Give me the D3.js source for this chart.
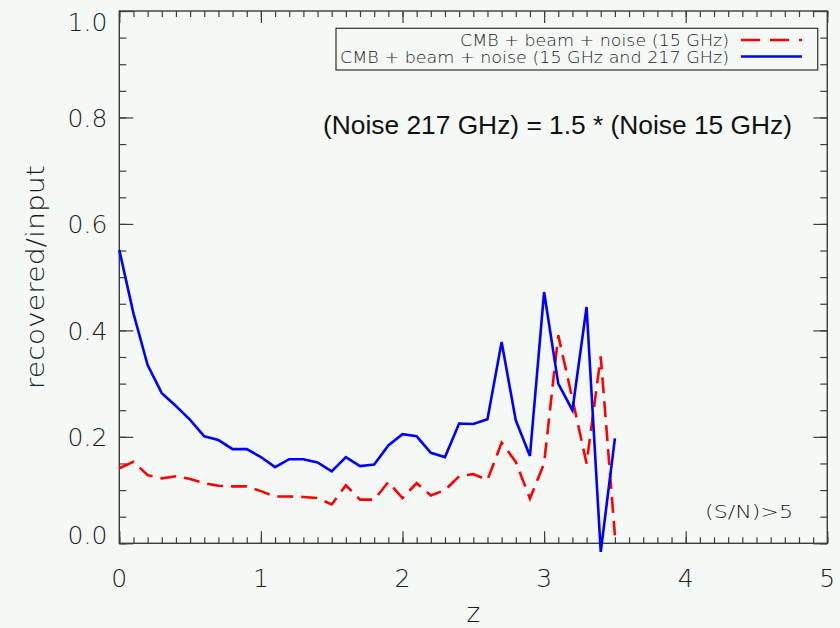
<!DOCTYPE html>
<html><head><meta charset="utf-8">
<script src="https://cdn.jsdelivr.net/npm/d3@7"></script>
<style>
html,body{margin:0;padding:0;background:#f5f9f5;}
svg{display:block;}
</style></head>
<body>
<svg id="c" width="840" height="628"></svg>
<script>
// ---- data ----
const zValues = [0.0,0.1,0.2,0.3,0.4,0.5,0.6,0.7,0.8,0.9,1.0,1.1,1.2,1.3,1.4,1.5,1.6,1.7,1.8,1.9,2.0,2.1,2.2,2.3,2.4,2.5,2.6,2.7,2.8,2.9,3.0,3.1,3.2,3.3,3.4,3.5];
const noise15 = [0.141,0.153,0.128,0.122,0.126,0.121,0.113,0.108,0.107,0.107,0.098,0.088,0.088,0.087,0.085,0.073,0.109,0.082,0.082,0.115,0.085,0.113,0.090,0.100,0.126,0.130,0.119,0.189,0.153,0.084,0.150,0.391,0.271,0.150,0.351,0.015];
const noise15and217 = [0.551,0.432,0.335,0.282,0.258,0.232,0.201,0.194,0.177,0.177,0.162,0.143,0.158,0.158,0.152,0.135,0.162,0.145,0.148,0.184,0.205,0.201,0.170,0.162,0.225,0.224,0.233,0.378,0.231,0.164,0.472,0.300,0.250,0.444,-0.016,0.197];
const xMajorTicks = [0,1,2,3,4,5];
const yMajorTicks = [0,0.2,0.4,0.6,0.8,1.0];
const yTickLabels = ["0.0","0.2","0.4","0.6","0.8","1.0"];
const legendLabels = ["CMB + beam + noise (15 GHz)","CMB + beam + noise (15 GHz and 217 GHz)"];
const noteText = "(Noise 217 GHz) = 1.5 * (Noise 15 GHz)";
const snText = "(S/N)>5";
const xTitle = "z";
const yTitle = "recovered/input";

// ---- layout ----
const L = 119.3, R = 827.3, T = 11, B = 543.3;
const axisColor = "#3c3c3c", textColor = "#1c1c1c";
const hershey = "'DejaVu Sans', sans-serif";
const svg = d3.select("#c");
const x = d3.scaleLinear().domain([0,5]).range([L,R]);
const y = d3.scaleLinear().domain([0,1]).range([B,T]);

const xMinor = d3.range(0,51).map(i=>i/10);
const yMinor = d3.range(0,21).map(i=>i/20);

function styleAxis(g){
  g.select(".domain").remove();
  g.selectAll("line").attr("stroke",axisColor).attr("stroke-width",1.2);
  g.selectAll("text").remove();
}
svg.append("g").attr("transform",`translate(0,${B})`).call(d3.axisBottom(x).tickValues(xMinor).tickSize(-6).tickFormat("")).call(styleAxis);
svg.append("g").attr("transform",`translate(0,${B})`).call(d3.axisBottom(x).tickValues(xMajorTicks).tickSize(-12).tickFormat("")).call(styleAxis);
svg.append("g").attr("transform",`translate(0,${T})`).call(d3.axisTop(x).tickValues(xMinor).tickSize(-6).tickFormat("")).call(styleAxis);
svg.append("g").attr("transform",`translate(0,${T})`).call(d3.axisTop(x).tickValues(xMajorTicks).tickSize(-12).tickFormat("")).call(styleAxis);
svg.append("g").attr("transform",`translate(${L},0)`).call(d3.axisLeft(y).tickValues(yMinor).tickSize(-7).tickFormat("")).call(styleAxis);
svg.append("g").attr("transform",`translate(${L},0)`).call(d3.axisLeft(y).tickValues(yMajorTicks).tickSize(-14).tickFormat("")).call(styleAxis);
svg.append("g").attr("transform",`translate(${R},0)`).call(d3.axisRight(y).tickValues(yMinor).tickSize(-7).tickFormat("")).call(styleAxis);
svg.append("g").attr("transform",`translate(${R},0)`).call(d3.axisRight(y).tickValues(yMajorTicks).tickSize(-14).tickFormat("")).call(styleAxis);

svg.append("rect").attr("x",L).attr("y",T).attr("width",R-L).attr("height",B-T)
  .attr("fill","none").attr("stroke",axisColor).attr("stroke-width",1.4);

svg.append("g").selectAll("text").data(xMajorTicks).join("text")
  .attr("x",d=>x(d)).attr("y",587).attr("text-anchor","middle")
  .attr("font-family",hershey).attr("font-weight",200).attr("font-size",25).attr("fill",textColor)
  .text(d=>String(d));
svg.append("g").selectAll("text").data(yMajorTicks).join("text")
  .attr("x",L-12).attr("y",d=>Math.max(31,Math.min(544,y(d)+9.5))).attr("text-anchor","end")
  .attr("font-family",hershey).attr("font-weight",200).attr("font-size",25).attr("fill",textColor)
  .text((d,i)=>yTickLabels[i]);

svg.append("text").attr("x",(L+R)/2).attr("y",622).attr("text-anchor","middle")
  .attr("font-family",hershey).attr("font-weight",200).attr("font-size",26).attr("fill",textColor).text(xTitle);
svg.append("text").attr("transform",`translate(44,${(T+B)/2}) rotate(-90)`).attr("text-anchor","middle")
  .attr("font-family",hershey).attr("font-weight",200).attr("font-size",24).attr("fill",textColor)
  .attr("textLength",224).attr("lengthAdjust","spacingAndGlyphs").text(yTitle);

const line = d3.line().x((d,i)=>x(zValues[i])).y(d=>y(d));
svg.append("path").datum(noise15).attr("d",line).attr("fill","none")
  .attr("stroke","#ff0000").attr("stroke-width",2.6).attr("stroke-dasharray","16,8");
svg.append("path").datum(noise15and217).attr("d",line).attr("fill","none")
  .attr("stroke","#0000ff").attr("stroke-width",2.6);

svg.append("rect").attr("x",336).attr("y",28.3).attr("width",481.7).attr("height",41.7)
  .attr("fill","#f5f9f5").attr("stroke",axisColor).attr("stroke-width",1.3);
const legStyles = [{c:"#ff0000",dash:"19,10",base:46,x0:460},{c:"#0000ff",dash:null,base:62.5,x0:340}];
legendLabels.forEach((t,i)=>{
  const s = legStyles[i];
  svg.append("text").attr("x",729).attr("y",s.base).attr("text-anchor","end")
    .attr("font-family",hershey).attr("font-weight",200).attr("font-size",15).attr("fill",textColor)
    .attr("textLength",729-s.x0).attr("lengthAdjust","spacingAndGlyphs").text(t);
  svg.append("line").attr("x1",741).attr("x2",802).attr("y1",s.base-6).attr("y2",s.base-6)
    .attr("stroke",s.c).attr("stroke-width",2.6).attr("stroke-dasharray",s.dash);
});

svg.append("text").attr("x",323).attr("y",134).attr("font-family","'Liberation Sans', Arial, sans-serif")
  .attr("font-size",26).attr("fill","#111").attr("textLength",469).attr("lengthAdjust","spacingAndGlyphs").text(noteText);
svg.append("text").attr("x",705).attr("y",518).attr("font-family",hershey).attr("font-weight",200)
  .attr("font-size",18).attr("fill",textColor).attr("textLength",88).attr("lengthAdjust","spacingAndGlyphs").text(snText);
</script>
</body></html>
